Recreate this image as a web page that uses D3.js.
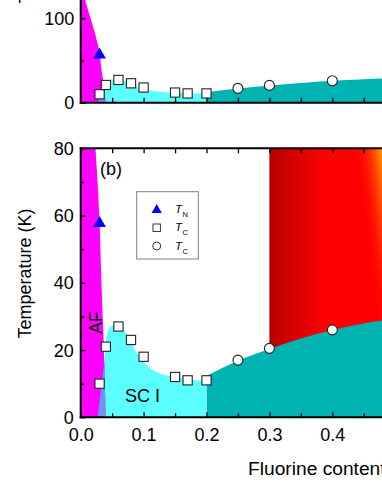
<!DOCTYPE html>
<html>
<head>
<meta charset="utf-8">
<script src="https://cdn.jsdelivr.net/npm/d3@7"></script>
<style>
  body { margin: 0; background: #fff; }
  svg { display: block; font-family: "Liberation Sans", Arial, sans-serif; }
</style>
</head>
<body>
<div id="chart"></div>
<script>
// ============================
// Data
// ============================
const tnX = [0.03];
const tnT = [58];
const sqX = [0.03, 0.04, 0.06, 0.08, 0.1, 0.15, 0.17, 0.2];
const sqT = [10, 21, 27, 23, 18, 12, 11, 11];
const ciX = [0.25, 0.3, 0.4];
const ciT = [17, 20.5, 26];

// phase boundaries [x, T]
const afEdge = [[0.0397, 0], [0.0375, 16], [0.0362, 24], [0.033, 40], [0.0296, 60], [0.0235, 80], [0.0068, 122], [0, 140]];
const sc1Edge = [[0.027, 0], [0.0378, 17], [0.0395, 22], [0.044, 26], [0.052, 27.4], [0.06, 27], [0.068, 26],
                 [0.078, 23.5], [0.088, 19.5], [0.1, 16.5], [0.115, 14], [0.13, 12.8], [0.15, 12], [0.175, 11.2], [0.2, 10.8]];
const sc2Edge = [[0.2, 12.3], [0.25, 16.8], [0.3, 20.3], [0.35, 23.4], [0.4, 26], [0.45, 27.9], [0.5, 29.3]];
const overlap = [[0.027, 0], [0.0378, 17], [0.0397, 0]];
const redX = [0.3, 0.5];
const redT = [0, 80];

const xTicks = [0, 0.1, 0.2, 0.3, 0.4];
const xMinor = [0.05, 0.15, 0.25, 0.35, 0.45];
const yTicksB = [0, 20, 40, 60, 80];
const yMinorB = [10, 30, 50, 70];
const yTicksT = [0, 100];
const yMinorT = [50];

const colors = {af: "#ff00ff", sc1: "#5cffff", sc2: "#00b3b3", mix: "#6a96f0", tn: "#0000ff"};

const width = 382, height = 494;

const svg = d3.select("#chart").append("svg")
  .attr("width", width).attr("height", height)
  .attr("viewBox", [0, 0, width, height]);

const x = d3.scaleLinear().domain([0, 0.5]).range([80.7, 395.2]);
const yB = d3.scaleLinear().domain([0, 80]).range([417.3, 148.3]);
const yT = d3.scaleLinear().domain([0, 100]).range([102.7, 18.3]);

const defs = svg.append("defs");
defs.append("clipPath").attr("id", "clipB").append("rect")
  .attr("x", x(0)).attr("y", yB(80)).attr("width", x(0.5) - x(0)).attr("height", yB(0) - yB(80));
defs.append("clipPath").attr("id", "clipT").append("rect")
  .attr("x", x(0)).attr("y", yT(300)).attr("width", x(0.5) - x(0)).attr("height", yT(0) - yT(300));

// red (SC II region) gradients
const gRed = defs.append("linearGradient").attr("id", "gRed")
  .attr("gradientUnits", "userSpaceOnUse")
  .attr("x1", x(0.3)).attr("y1", 0).attr("x2", x(0.39)).attr("y2", 0);
gRed.append("stop").attr("offset", 0).attr("stop-color", "#b50000");
gRed.append("stop").attr("offset", 0.5).attr("stop-color", "#dc0000");
gRed.append("stop").attr("offset", 1).attr("stop-color", "#ff0000");

const ox = x(0.434), oy = yB(80);
const gOr = defs.append("linearGradient").attr("id", "gOr")
  .attr("gradientUnits", "userSpaceOnUse")
  .attr("x1", ox).attr("y1", oy).attr("x2", ox + 28).attr("y2", oy - 28 * 0.136);
gOr.append("stop").attr("offset", 0).attr("stop-color", "#ff0000").attr("stop-opacity", 0);
gOr.append("stop").attr("offset", 1).attr("stop-color", "#ffa200").attr("stop-opacity", 1);

// ============================
// Panel drawing
// ============================
function drawPhases(g, y, withRed) {
  if (withRed) {
    g.append("rect").attr("x", x(redX[0])).attr("y", y(redT[1]))
      .attr("width", x(redX[1]) - x(redX[0])).attr("height", y(redT[0]) - y(redT[1]))
      .attr("fill", "url(#gRed)");
    g.append("rect").attr("x", x(redX[0])).attr("y", y(redT[1]))
      .attr("width", x(redX[1]) - x(redX[0])).attr("height", y(redT[0]) - y(redT[1]))
      .attr("fill", "url(#gOr)");
  }
  const areaX = d3.area().curve(d3.curveMonotoneX)
    .x(d => x(d[0])).y0(y(0)).y1(d => y(d[1]));
  g.append("path").attr("d", areaX(sc2Edge)).attr("fill", colors.sc2);
  g.append("path").attr("d", areaX(sc1Edge)).attr("fill", colors.sc1);

  const areaAF = d3.area().curve(d3.curveCatmullRom)
    .y(d => y(d[1])).x0(x(0)).x1(d => x(d[0]));
  g.append("path").attr("d", areaAF(afEdge)).attr("fill", colors.af);

  const poly = d3.line().curve(d3.curveLinearClosed).x(d => x(d[0])).y(d => y(d[1]));
  g.append("path").attr("d", poly(overlap)).attr("fill", colors.mix);
}

function drawMarkers(g, y) {
  g.selectAll(".tn").data(tnX).join("path")
    .attr("d", d3.symbol(d3.symbolTriangle, 70))
    .attr("transform", (d, i) => `translate(${x(d)},${y(tnT[i]) + 1})`)
    .attr("fill", colors.tn);
  g.selectAll(".sq").data(sqX).join("rect")
    .attr("x", d => x(d) - 4.6).attr("y", (d, i) => y(sqT[i]) - 4.6)
    .attr("width", 9.2).attr("height", 9.2)
    .attr("fill", "#fff").attr("stroke", "#222").attr("stroke-width", 1.1);
  g.selectAll(".ci").data(ciX).join("circle")
    .attr("cx", d => x(d)).attr("cy", (d, i) => y(ciT[i])).attr("r", 5)
    .attr("fill", "#fff").attr("stroke", "#222").attr("stroke-width", 1.1);
}

function frame(g, yTop, yBot, withTop) {
  const add = (x1, y1, x2, y2) => g.append("line")
    .attr("x1", x1).attr("y1", y1).attr("x2", x2).attr("y2", y2)
    .attr("stroke", "#000").attr("stroke-width", 2).attr("stroke-linecap", "square");
  add(x(0), yTop, x(0), yBot);
  add(x(0), yBot, x(0.5), yBot);
  if (withTop) add(x(0), yTop, x(0.5), yTop);
}

function cleanAxis(g) {
  g.select(".domain").remove();
  g.selectAll(".tick line").attr("stroke", "#000").attr("stroke-width", 1.3);
  g.selectAll(".tick text").attr("font-size", 18).attr("fill", "#000");
}

// ---------- top panel ----------
const topPanel = svg.append("g");
drawPhases(topPanel.append("g").attr("clip-path", "url(#clipT)"), yT, false);

topPanel.append("g").attr("transform", `translate(0,${yT(0)})`)
  .call(d3.axisBottom(x).tickValues(xTicks.concat(xMinor)).tickSize(-5).tickFormat(""))
  .call(cleanAxis);
topPanel.append("g").attr("transform", `translate(${x(0)},0)`)
  .call(d3.axisLeft(yT).tickValues(yTicksT).tickSize(-5).tickPadding(6.5))
  .call(cleanAxis)
  .call(g => g.selectAll(".tick text").attr("dy", "0.34em"));
topPanel.append("g").attr("transform", `translate(${x(0)},0)`)
  .call(d3.axisLeft(yT).tickValues(yMinorT).tickSize(-3.5).tickFormat(""))
  .call(cleanAxis);
frame(topPanel, yT(300), yT(0), false);
drawMarkers(topPanel, yT);

// the upper panel's axis title runs off the top of the picture
topPanel.append("text")
  .attr("transform", "translate(32.2,3.5) rotate(-90)")
  .attr("font-size", 18).text("Temperature (K)");

// ---------- bottom panel ----------
const botPanel = svg.append("g");
drawPhases(botPanel.append("g").attr("clip-path", "url(#clipB)"), yB, true);

botPanel.append("g").attr("transform", `translate(0,${yB(0)})`)
  .call(d3.axisBottom(x).tickValues(xTicks).tickSize(-5).tickPadding(11).tickFormat(d3.format(".1f")))
  .call(cleanAxis);
botPanel.append("g").attr("transform", `translate(0,${yB(0)})`)
  .call(d3.axisBottom(x).tickValues(xMinor).tickSize(-4).tickFormat(""))
  .call(cleanAxis);
botPanel.append("g").attr("transform", `translate(0,${yB(80)})`)
  .call(d3.axisTop(x).tickValues(xTicks.concat(xMinor)).tickSize(-5).tickFormat(""))
  .call(cleanAxis);
botPanel.append("g").attr("transform", `translate(${x(0)},0)`)
  .call(d3.axisLeft(yB).tickValues(yTicksB).tickSize(-5).tickPadding(7))
  .call(cleanAxis)
  .call(g => g.selectAll(".tick text").attr("dy", "0.34em"));
botPanel.append("g").attr("transform", `translate(${x(0)},0)`)
  .call(d3.axisLeft(yB).tickValues(yMinorB).tickSize(-3.5).tickFormat(""))
  .call(cleanAxis);
frame(botPanel, yB(80), yB(0), true);
drawMarkers(botPanel, yB);

// labels
botPanel.append("text").attr("x", 100).attr("y", 174.5).attr("font-size", 18).text("(b)");
botPanel.append("text")
  .attr("transform", "translate(101.5,322.5) rotate(-90)")
  .attr("text-anchor", "middle").attr("font-size", 17.5).text("AF");
botPanel.append("text").attr("x", 125).attr("y", 402).attr("font-size", 18).text("SC I");

svg.append("text")
  .attr("transform", "translate(30.5,273.5) rotate(-90)")
  .attr("text-anchor", "middle").attr("font-size", 18).text("Temperature (K)");
// axis title runs off the right edge, as in the source figure
svg.append("text").attr("x", 248).attr("y", 475).attr("font-size", 19.2).text("Fluorine content x");

// ---------- legend ----------
const leg = svg.append("g");
leg.append("rect").attr("x", 136.7).attr("y", 191.7).attr("width", 61.6).attr("height", 67.3)
  .attr("fill", "#fff").attr("stroke", "#808080").attr("stroke-width", 1);
const legY = [209, 227.7, 246];
leg.append("path").attr("d", d3.symbol(d3.symbolTriangle, 45))
  .attr("transform", `translate(156.7,${legY[0] + 1})`).attr("fill", colors.tn);
leg.append("rect").attr("x", 153).attr("y", legY[1] - 3.7).attr("width", 7.4).attr("height", 7.4)
  .attr("fill", "#fff").attr("stroke", "#222").attr("stroke-width", 0.9);
leg.append("circle").attr("cx", 156.7).attr("cy", legY[2]).attr("r", 4)
  .attr("fill", "#fff").attr("stroke", "#222").attr("stroke-width", 0.9);
const legSub = ["N", "C", "C"];
legSub.forEach((s, i) => {
  const t = leg.append("text").attr("x", 175).attr("y", legY[i] + 3.6).attr("font-size", 11.5);
  t.append("tspan").attr("font-style", "italic").text("T");
  t.append("tspan").attr("font-size", 7.5).attr("dx", 0.5).attr("dy", 4).text(s);
});
</script>
</body>
</html>
